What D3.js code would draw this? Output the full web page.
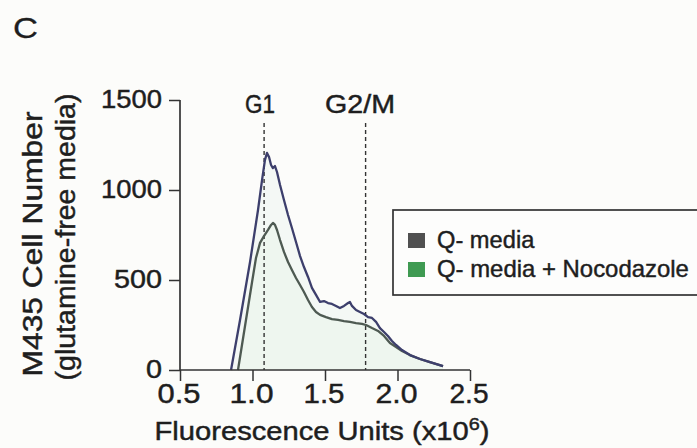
<!DOCTYPE html>
<html><head><meta charset="utf-8">
<script src="https://cdn.jsdelivr.net/npm/d3@7"></script>
<style>html,body{margin:0;padding:0;background:#fcfcfa;}svg{display:block;}</style>
</head><body>
<script>
// ---- data ----
const qMediaX = [0.852,0.914,0.983,1.038,1.066,1.086,1.100,1.114,1.128,1.141,1.155,1.169,1.190,1.217,1.245,1.272,1.300,1.328,1.355,1.383,1.410,1.438,1.466,1.493,1.521,1.548,1.576,1.603,1.631,1.659,1.672,1.686,1.714,1.741,1.769,1.797,1.824,1.852,1.879,1.907,1.934,1.962,1.990,2.031,2.086,2.155,2.224,2.314];
const qMediaY = [0,278,600,889,1056,1167,1206,1183,1139,1122,1133,1100,1028,944,861,789,711,633,572,517,456,417,378,383,372,367,356,344,356,372,378,356,333,322,311,294,289,267,233,211,189,161,139,111,83,61,44,22];
const nocoX = [0.900,0.955,0.997,1.024,1.052,1.079,1.107,1.128,1.141,1.155,1.169,1.190,1.217,1.245,1.272,1.300,1.328,1.355,1.383,1.410,1.438,1.466,1.507,1.548,1.590,1.631,1.672,1.714,1.755,1.783,1.824,1.866,1.907,1.948,1.990,2.031,2.086,2.155,2.224,2.314];
const nocoY = [0,278,489,622,706,744,778,806,817,806,778,722,656,600,556,511,472,433,389,350,322,306,294,283,278,272,267,261,256,250,233,217,189,150,128,106,83,61,44,22];
const xTicks = [0.5,1.0,1.5,2.0,2.5];
const xTickLabels = ["0.5","1.0","1.5","2.0","2.5"];
const yTicks = [0,500,1000,1500];
const phaseNames = ["G1","G2/M"];
const phaseX = [1.08,1.78];
const seriesNames = ["Q- media","Q- media + Nocodazole"];
const seriesColors = ["#3d3f6c","#4e5a52"];
const legendColors = ["#505050","#3f9a52"];

// ---- chart ----
const W=697,H=448;
const svg=d3.select("body").append("svg").attr("width",W).attr("height",H);
svg.append("rect").attr("width",W).attr("height",H).attr("fill","#fcfcfa");
const x=d3.scaleLinear().domain([0.5,2.5]).range([180,470]);
const y=d3.scaleLinear().domain([0,1500]).range([370,100]);
const FONT="'Liberation Sans', Arial, sans-serif";
const ink="#1e1e1e";

function txt(parent){
  return parent.append("text").attr("font-family",FONT).attr("fill",ink)
    .attr("stroke",ink).attr("stroke-width",0.45);
}
function fitX(sel,target){ // horizontally scale text to target width around its anchor
  const node=sel.node(); const w=node.getBBox().width;
  const s=target/w; const ax=+sel.attr("x")||0, ay=+sel.attr("y")||0;
  sel.attr("transform",`translate(${ax},${ay}) scale(${s},1) translate(${-ax},${-ay})`);
}

// panel letter
fitX(txt(svg).attr("x",13).attr("y",38).attr("font-size",29).attr("stroke-width",0.3).text("C"),25);

// area fill under curves (faint)
const ptsQ=qMediaX.map((d,i)=>[d,qMediaY[i]]);
const ptsN=nocoX.map((d,i)=>[d,nocoY[i]]);
svg.append("path").datum(ptsQ).attr("fill","#f4f8f5")
  .attr("d",d3.area().x(d=>x(d[0])).y0(y(0)).y1(d=>y(d[1])));
svg.append("path").datum(ptsN).attr("fill","#eef6ef")
  .attr("d",d3.area().x(d=>x(d[0])).y0(y(0)).y1(d=>y(d[1])));

// dashed phase lines
phaseX.forEach(p=>{
  svg.append("line").attr("x1",x(p)).attr("x2",x(p)).attr("y1",123).attr("y2",y(0))
    .attr("stroke","#333").attr("stroke-width",1.4).attr("stroke-dasharray","4,3");
});
const pl=[{t:phaseNames[0],cx:260,w:30},{t:phaseNames[1],cx:360,w:70}];
pl.forEach(o=>{
  fitX(txt(svg).attr("x",o.cx).attr("y",113).attr("text-anchor","middle")
    .attr("font-size",25).text(o.t),o.w);
});

// lines
const line=d3.line().x(d=>x(d[0])).y(d=>y(d[1]));
svg.append("path").datum(ptsN).attr("fill","none").attr("stroke",seriesColors[1]).attr("stroke-width",2.3).attr("stroke-linejoin","round").attr("d",line);
svg.append("path").datum(ptsQ).attr("fill","none").attr("stroke",seriesColors[0]).attr("stroke-width",2.3).attr("stroke-linejoin","round").attr("d",line);

// axes
const xAxis=svg.append("g").attr("transform",`translate(0,${y(0)})`)
  .call(d3.axisBottom(x).tickValues(xTicks).tickSize(11).tickFormat(""));
const yAxis=svg.append("g").attr("transform",`translate(${x(0.5)},0)`)
  .call(d3.axisLeft(y).tickValues(yTicks).tickSize(11).tickFormat(""));
[xAxis,yAxis].forEach(a=>{
  a.select(".domain").attr("stroke","#333").attr("stroke-width",1.7);
  a.selectAll(".tick line").attr("stroke","#333").attr("stroke-width",1.5);
});
xAxis.select(".domain").attr("d",`M${x(0.5)},0H${x(2.5)}`);
yAxis.select(".domain").attr("d",`M0,${y(0)}V${y(1500)}`);

// tick labels
const xLabW=[43,44,41,42,39];
xTicks.forEach((t,i)=>{
  fitX(txt(svg).attr("x",x(t)-1).attr("y",403).attr("text-anchor","middle")
    .attr("font-size",28).text(xTickLabels[i]),xLabW[i]);
});
const yLabW={0:16,500:48,1000:61,1500:61};
yTicks.forEach(t=>{
  fitX(txt(svg).attr("x",162).attr("y",y(t)+8).attr("text-anchor","end")
    .attr("font-size",25).text(d3.format("d")(t)),yLabW[t]);
});

// x title
const xt=txt(svg).attr("x",322).attr("y",440).attr("text-anchor","middle").attr("font-size",25);
xt.append("tspan").text("Fluorescence Units (x10");
xt.append("tspan").attr("font-size",17).attr("dy",-10).text("6");
xt.append("tspan").attr("dy",10).text(")");
fitX(xt,335);

// y title (two lines)
const yt1=svg.append("g").attr("transform","translate(42,244) rotate(-90)");
fitX(txt(yt1).attr("x",0).attr("y",0).attr("text-anchor","middle")
  .attr("font-size",27).text("M435 Cell Number"),265);
const yt2=svg.append("g").attr("transform","translate(75,237) rotate(-90)");
fitX(txt(yt2).attr("x",0).attr("y",0).attr("text-anchor","middle")
  .attr("font-size",27).text("(glutamine-free media)"),287);

// legend
svg.append("rect").attr("x",393).attr("y",210).attr("width",330).attr("height",85)
  .attr("fill","#fdfdfc").attr("stroke","#333").attr("stroke-width",1.7);
seriesNames.forEach((n,i)=>{
  const yy=[233,262][i];
  svg.append("rect").attr("x",408).attr("y",yy).attr("width",17).attr("height",15).attr("fill",legendColors[i]);
  fitX(txt(svg).attr("x",437).attr("y",yy+15).attr("font-size",24).text(n),[98,252][i]);
});
</script>
</body></html>
